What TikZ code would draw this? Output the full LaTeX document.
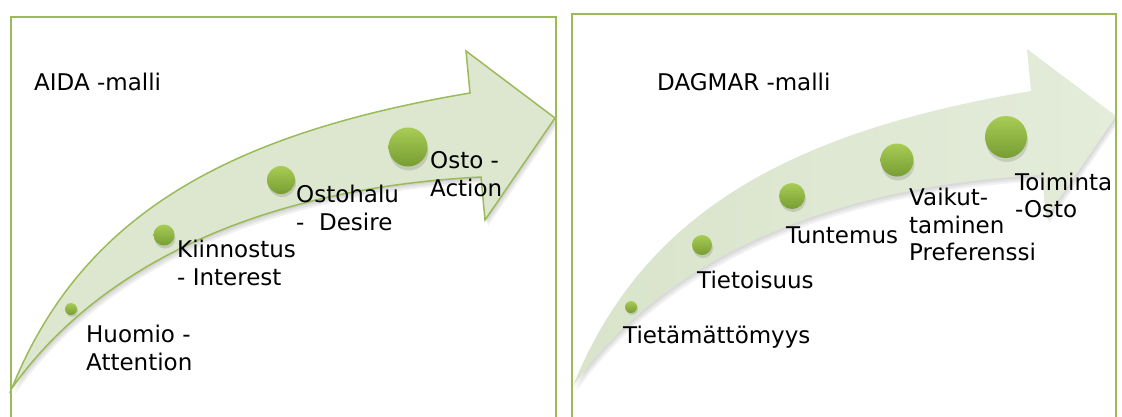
\documentclass[tikz,border=0pt]{standalone}
\usepackage{fontspec}
\setmainfont{DejaVu Sans}
\definecolor{frame}{HTML}{9BBB59}
\definecolor{arrfill}{HTML}{DDE7CF}
\definecolor{arrfillR}{HTML}{D9E4CB}
\definecolor{arrfillR2}{HTML}{E4ECDA}
\definecolor{dottop}{HTML}{A9CC55}
\definecolor{dotbot}{HTML}{779D33}
\newcommand{\arrowshape}{(12,388) .. controls (80,220) and (220,135) .. (470,93) -- (466,51) -- (555,118) -- (485,220) -- (481,177) .. controls (230,190) and (85,285) .. (12,388) -- cycle}
\tikzset{
  panel/.style={draw=frame, line width=1.5pt},
  lbl/.style={anchor=base west, inner sep=0pt, font=\fontsize{23}{28}\selectfont},
  ball/.style={circle, inner sep=0pt, minimum size=#1, top color=dottop, bottom color=dotbot, draw=none},
  ballshadow/.style={circle, inner sep=0pt, minimum size=#1, fill=black, opacity=0.12, draw=none},
}
\begin{document}
\begin{tikzpicture}[x=1pt,y=-1pt]
\useasboundingbox (0,0) rectangle (1122,416);
\clip (0,0) rectangle (1122,416);
\fill[white] (0,0) rectangle (1122,416);
% ---- left arrow (AIDA)
\foreach \s in {2,4,6}{
  \fill[black, opacity=0.06, shift={(\s*0.5,\s)}] \arrowshape;
}
\fill[arrfill] \arrowshape;
\draw[frame, line width=1.5pt, line join=miter] \arrowshape;
% ---- right arrow (DAGMAR)
\begin{scope}[shift={(561,-2)}]
\foreach \s in {2,4,6}{
  \fill[black, opacity=0.05, shift={(\s*0.5,\s)}] \arrowshape;
}
\shade[left color=arrfillR, right color=arrfillR2] \arrowshape;
\end{scope}
% ---- panels
\draw[panel] (11,17) rectangle (556,440);
\draw[panel] (572,14) rectangle (1116,440);
% ---- balls left
\node[ballshadow=12pt] (d1s) at (72,311) {};
\node[ball=12pt] (d1) at (71,309) {};
\node[ballshadow=21pt] (d2s) at (165,238) {};
\node[ball=21pt] (d2) at (164,235) {};
\node[ballshadow=28pt] (d3s) at (282,183) {};
\node[ball=28pt] (d3) at (281,180) {};
\node[ballshadow=39pt] (d4s) at (409,151) {};
\node[ball=39pt] (d4) at (408,147) {};
% ---- balls right
\node[ballshadow=12pt] (e1s) at (632,309) {};
\node[ball=12pt] (e1) at (631,307) {};
\node[ballshadow=20pt] (e2s) at (703,248) {};
\node[ball=20pt] (e2) at (702,245) {};
\node[ballshadow=26pt] (e3s) at (793,199) {};
\node[ball=26pt] (e3) at (792,196) {};
\node[ballshadow=33pt] (e4s) at (898,164) {};
\node[ball=33pt] (e4) at (897,160) {};
\node[ballshadow=42pt] (e5s) at (1007,141) {};
\node[ball=42pt] (e5) at (1006,137) {};
% ---- texts left
\node[lbl] (aida) at (34,90) {AIDA -malli};
\node[lbl] (att1) at (86,342) {Huomio -};
\node[lbl] (att2) at (86,370) {Attention};
\node[lbl] (int1) at (177,257) {Kiinnostus};
\node[lbl] (int2) at (177,285) {- Interest};
\node[lbl] (des1) at (296,202) {Ostohalu};
\node[lbl] (des2) at (296,230) {-\ \ Desire};
\node[lbl] (act1) at (430,168) {Osto -};
\node[lbl] (act2) at (430,196) {Action};
% ---- texts right
\node[lbl] (dag) at (657,90) {DAGMAR -malli};
\node[lbl] (tm) at (623,343) {Tietämättömyys};
\node[lbl] (ti) at (697,288) {Tietoisuus};
\node[lbl] (tu) at (786,243) {Tuntemus};
\node[lbl] (va1) at (909,205) {Vaikut-};
\node[lbl] (va2) at (909,233) {taminen};
\node[lbl] (va3) at (909,260) {Preferenssi};
\node[lbl] (to1) at (1015,190) {Toiminta};
\node[lbl] (to2) at (1015,217) {-Osto};
\end{tikzpicture}
\end{document}
